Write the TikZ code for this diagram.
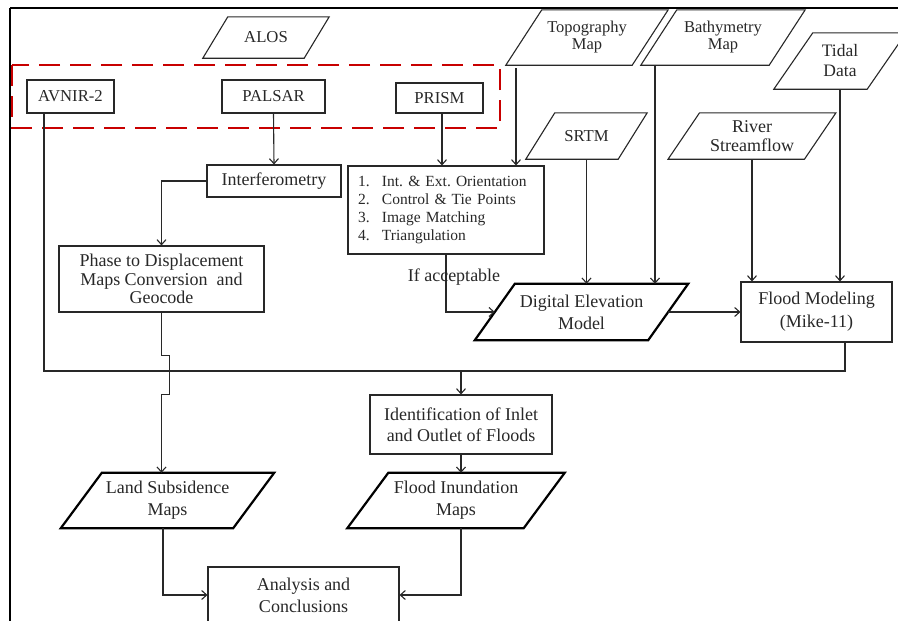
\documentclass[tikz,border=0pt]{standalone}
\usepackage{fontspec}
\setmainfont{Liberation Serif}
\usetikzlibrary{arrows.meta}
\definecolor{ln}{RGB}{40,40,40}
\definecolor{txt}{RGB}{40,40,40}
\definecolor{dred}{RGB}{200,0,0}
\newcommand\drawpara[3]{\draw[#3] ([xshift=#2]#1.north west) -- ([xshift=#2]#1.north east) -- ([xshift=-#2]#1.south east) -- ([xshift=-#2]#1.south west) -- cycle;}
\frenchspacing
\begin{document}
\begin{tikzpicture}[x=1pt,y=-1pt,
  box/.style={draw=ln, line width=1.1pt, rectangle, inner sep=0pt, align=center, text=txt, font=\fontsize{18}{21}\selectfont},
  pbox/.style={rectangle, inner sep=0pt, align=center, text=txt, font=\fontsize{18}{21}\selectfont},
  capf/.style={font=\fontsize{16.7}{20}\selectfont},
  thinp/.style={draw=ln, line width=1.1pt},
  thickp/.style={draw=black, line width=2.2pt},
  conn/.style={draw=ln, line width=1.1pt},
  arr/.style={draw=ln, line width=1.1pt, -{Straight Barb[length=5pt,width=9pt]}},
  lbl/.style={inner sep=0pt, text=txt, font=\fontsize{18}{21}\selectfont}]
\useasboundingbox (0,0) rectangle (898,621);
\fill[white] (0,0) rectangle (898,621);
\clip (0,0) rectangle (898,621);
% frame
\draw[line width=2.6pt, black] (10,8) -- (898,8);
\draw[line width=2pt, black] (10,8) -- (10,621);
% red dashed group
\draw[dred, line width=2pt, dash pattern=on 21pt off 10pt] (12,65) rectangle (500,128);
% rectangles
\node[box, capf, minimum width=87pt, minimum height=33pt] (avnir) at (70.5,96.5) {AVNIR-2};
\node[box, capf, minimum width=103pt, minimum height=33pt] (palsar) at (273.5,96.5) {PALSAR};
\node[box, capf, minimum width=87pt, minimum height=30pt] (prism) at (439.5,98) {PRISM};
\node[box, minimum width=134pt, minimum height=32pt] (interf) at (274,181) {Interferometry};
\node[box, minimum width=196pt, minimum height=88pt, text width=176pt, align=left, font=\fontsize{15.5}{17.7}\selectfont] (list) at (446,210)
  {\makebox[24pt][l]{1.}Int. \& Ext. Orientation\\
   \makebox[24pt][l]{2.}Control \& Tie Points\\
   \makebox[24pt][l]{3.}Image Matching\\
   \makebox[24pt][l]{4.}Triangulation};
\node[box, minimum width=205pt, minimum height=66pt, font=\fontsize{18}{18.5}\selectfont] (phase) at (161.5,279) {Phase to Displacement\\Maps Conversion~~and\\Geocode};
\node[box, minimum width=151pt, minimum height=60pt, font=\fontsize{18}{23}\selectfont] (fmod) at (816.5,312) {Flood Modeling\\(Mike-11)};
\node[box, minimum width=182pt, minimum height=59pt] (ident) at (461,424.5) {Identification of Inlet\\and Outlet of Floods};
\node[box, minimum width=191pt, minimum height=56pt, font=\fontsize{18}{22}\selectfont] (anal) at (303.5,595) {Analysis and\\Conclusions};
% parallelograms
\node[pbox, capf, minimum width=101pt, minimum height=41pt] (alos) at (266,37.5) {ALOS};
\drawpara{alos}{12.5pt}{thinp}
\node[pbox, minimum width=126pt, minimum height=55pt, font=\fontsize{16.5}{17}\selectfont] (topo) at (587,37.5) {Topography\\Map};
\drawpara{topo}{18pt}{thinp}
\node[pbox, minimum width=128pt, minimum height=55pt, font=\fontsize{16.5}{17}\selectfont] (bathy) at (723,37.5) {Bathymetry\\Map};
\drawpara{bathy}{18pt}{thinp}
\node[pbox, minimum width=93pt, minimum height=56pt, font=\fontsize{17.5}{20}\selectfont] (tidal) at (840,61) {Tidal\\Data};
\drawpara{tidal}{19.5pt}{thinp}
\node[pbox, capf, minimum width=92pt, minimum height=46pt] (srtm) at (586.5,136) {SRTM};
\drawpara{srtm}{14.5pt}{thinp}
\node[pbox, minimum width=136pt, minimum height=46pt, font=\fontsize{18}{19}\selectfont] (river) at (752,136) {River\\Streamflow};
\drawpara{river}{15.75pt}{thinp}
\node[pbox, minimum width=173pt, minimum height=56pt, font=\fontsize{18}{22}\selectfont] (dem) at (581.5,312) {Digital Elevation\\Model};
\drawpara{dem}{20pt}{thickp}
\node[pbox, minimum width=172pt, minimum height=55pt, font=\fontsize{18}{22}\selectfont] (land) at (167.5,500.5) {Land Subsidence\\Maps};
\drawpara{land}{20.5pt}{thickp}
\node[pbox, minimum width=176pt, minimum height=55pt, font=\fontsize{18}{22}\selectfont] (finun) at (456,500.5) {Flood Inundation\\Maps};
\drawpara{finun}{20.5pt}{thickp}
% label
\node[lbl] (ifacc) at (454,277) {If acceptable};
% connectors
\draw[arr] (palsar.south) -- (interf.north);
\draw[arr] ([xshift=2.5pt]prism.south) -- ([xshift=2.5pt]prism.south |- list.north);
\draw[arr] ([xshift=-71pt,yshift=-3pt]topo.south) -- ([xshift=-71pt]topo.south |- list.north);
\draw[arr] (interf.west) -| (phase.north);
\draw[arr] (list.south) |- (dem.west);
\draw[arr] (srtm.south) -- (srtm.south |- dem.north);
\draw[arr] ([xshift=-68pt]bathy.south) -- ([xshift=-68pt]bathy.south |- dem.north);
\draw[arr] (dem.east) -- (dem.east -| fmod.west);
\draw[arr] (river.south) -- (river.south |- fmod.north);
\draw[arr] (tidal.south) -- (tidal.south |- fmod.north);
\coordinate (bus) at (461,371);
\draw[conn] ([xshift=-26.5pt]avnir.south) |- (bus) -| ([xshift=28.5pt]fmod.south);
\draw[arr] (bus) -- (ident.north);
\draw[arr] (ident.south) -- (ident.south |- finun.north);
\draw[arr] (phase.south) -- ++(0,43) -- ++(8,0) -- ++(0,39) -- ++(-8,0) coordinate (jx) -- (jx |- land.north);
\draw[arr] ([xshift=-4.5pt]land.south) |- (anal.west);
\draw[arr] ([xshift=5pt]finun.south) |- (anal.east);
\end{tikzpicture}
\end{document}
